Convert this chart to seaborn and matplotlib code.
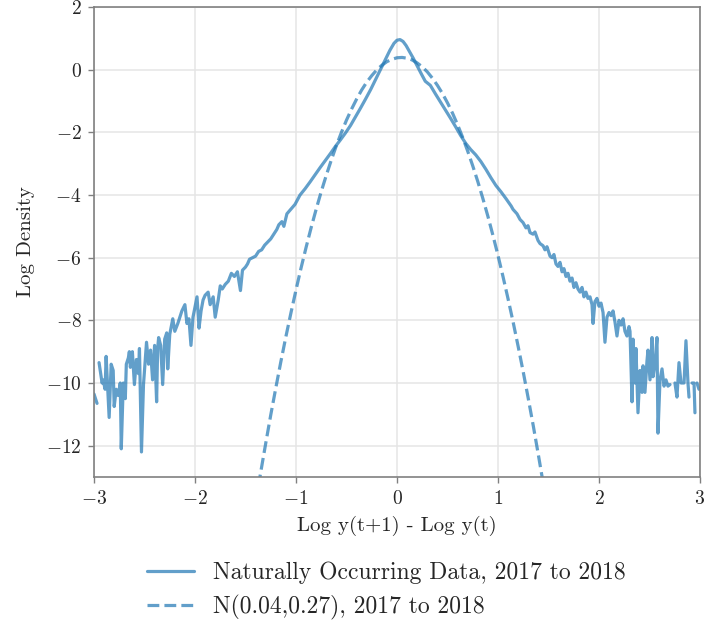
import numpy as np
import pandas as pd
import matplotlib
matplotlib.use("Agg")
import matplotlib.pyplot as plt
import seaborn as sns
from matplotlib.lines import Line2D

nan = np.nan

emp_x = [-3.00, -2.97, nan,
         -2.95, -2.92, -2.91, -2.89, -2.88, -2.85, -2.83, -2.81, -2.80, -2.78, -2.76,
         -2.74, -2.73, -2.71, -2.69, -2.68, -2.66, -2.65, -2.64, -2.62, -2.60, -2.58,
         -2.56, -2.55, -2.53, -2.51, -2.48, -2.46, -2.44, -2.42, -2.40, -2.38, -2.37,
         -2.36, -2.34, -2.32, -2.30, -2.28, -2.27, -2.25, -2.22, -2.20, -2.17, -2.13,
         -2.10, -2.08, -2.06, -2.04, -2.02, -1.98, -1.96, -1.94, -1.92, -1.90, -1.87,
         -1.85, -1.82, -1.80, -1.77, -1.75, -1.73, -1.70, -1.67, -1.64, -1.61, -1.58,
         -1.55, -1.53, -1.50, -1.48, -1.46, -1.43, -1.40, -1.37, -1.34, -1.31, -1.28,
         -1.25, -1.22, -1.19, -1.17, -1.14, -1.12, -1.09, -1.05, -1.01,
         -0.96, -0.91, -0.86, -0.81, -0.76, -0.71, -0.66, -0.61, -0.56, -0.51, -0.46,
         -0.41, -0.36, -0.31, -0.26, -0.21, -0.16, -0.11, -0.07, -0.03, 0.00, 0.03,
         0.06, 0.09, 0.12, 0.16, 0.20, 0.24, 0.28, 0.33, 0.38, 0.43, 0.48, 0.53, 0.58,
         0.63, 0.68, 0.73, 0.78, 0.83, 0.88, 0.93, 0.98, 1.03, 1.08, 1.13,
         1.149, 1.188, 1.218, 1.248, 1.277, 1.297, 1.317, 1.347, 1.366, 1.396, 1.416,
         1.446, 1.465, 1.485, 1.515, 1.535, 1.554, 1.574, 1.594, 1.614, 1.634, 1.653,
         1.673, 1.693, 1.713, 1.733, 1.752, 1.772, 1.792, 1.812, 1.832, 1.851, 1.871,
         1.891, 1.911, 1.931, 1.941, 1.960, 1.980, 2.000, 2.020, 2.040, 2.059, 2.079,
         2.099, 2.119, 2.139, 2.158, 2.178, 2.198, 2.218, 2.238, 2.257, 2.277, 2.297,
         2.307, 2.327, 2.337, 2.356, 2.366, 2.386, 2.406, 2.426, 2.436, 2.455, 2.475,
         2.485, 2.505, 2.525, 2.535, 2.554, 2.574, 2.584, 2.604, 2.624, 2.644, 2.663,
         2.683, 2.703, nan,
         2.752, 2.772, 2.792, 2.812, 2.842, 2.861, 2.881, 2.891, nan,
         2.921, 2.941, 2.950, nan,
         2.970, 2.990]
emp_y = [-10.35, -10.65, nan,
         -9.35, -10.0, -9.9, -10.2, -9.15, -11.1, -9.4, -9.6, -10.75, -10.2, -10.4,
         -10.0, -12.1, -10.0, -10.5, -9.4, -9.2, -9.0, -9.5, -9.0, -10.05, -9.25,
         -9.7, -8.9, -12.2, -10.05, -8.7, -9.4, -8.95, -9.9, -8.8, -10.6, -8.9,
         -8.55, -8.8, -10.05, -8.6, -8.4, -9.55, -8.45, -7.95, -8.35, -8.1, -7.7,
         -7.5, -8.1, -7.95, -8.8, -7.9, -7.25, -8.25, -7.7, -7.35, -7.2, -7.1,
         -7.5, -7.25, -7.9, -7.35, -6.9, -7.0, -6.85, -6.75, -6.5, -6.6, -6.45,
         -7.05, -6.4, -6.3, -6.2, -6.05, -6.0, -5.95, -5.8, -5.75, -5.6, -5.5,
         -5.4, -5.25, -5.1, -4.95, -4.85, -5.0, -4.6, -4.45, -4.3,
         -4.0, -3.8, -3.58, -3.35, -3.12, -2.9, -2.68, -2.45, -2.24, -2.02, -1.78,
         -1.5, -1.22, -0.93, -0.63, -0.3, 0.03, 0.36, 0.62, 0.84, 0.94, 0.96,
         0.9, 0.77, 0.6, 0.37, 0.12, -0.13, -0.37, -0.5, -0.77, -1.03, -1.29, -1.55, -1.82,
         -2.1, -2.35, -2.55, -2.72, -2.93, -3.18, -3.45, -3.7, -3.9, -4.12, -4.35,
         -4.46, -4.6, -4.78, -4.88, -5.05, -4.98, -5.2, -5.25, -5.18, -5.45, -5.55,
         -5.62, -5.75, -5.65, -5.95, -6.0, -5.9, -6.2, -6.28, -6.15, -6.45, -6.35,
         -6.6, -6.5, -6.75, -6.65, -6.95, -6.8, -7.0, -7.1, -6.95, -7.25, -7.1,
         -7.3, -7.25, -7.5, -8.1, -7.4, -7.3, -7.55, -7.45, -7.75, -8.7, -7.9,
         -7.75, -7.85, -7.7, -8.05, -8.5, -8.0, -8.15, -7.95, -8.35, -8.5, -8.2,
         -8.35, -10.6, -8.6, -10.0, -8.9, -10.95, -9.6, -10.3, -9.45, -10.3, -9.3,
         -8.95, -9.9, -8.55, -9.8, -9.4, -8.55, -11.6, -9.9, -9.55, -10.1, -9.9,
         -10.1, -10.05, nan,
         -10.0, -10.45, -9.35, -10.0, -10.0, -8.65, -10.0, -10.45, nan,
         -10.0, -10.0, -10.95, nan,
         -10.0, -10.2]

# Normal N(0.04, 0.27) log density
norm_x = [-1.40, -1.35, -1.30, -1.25, -1.20, -1.15, -1.10, -1.05, -1.00, -0.95,
          -0.90, -0.85, -0.80, -0.75, -0.70, -0.65, -0.60, -0.55, -0.50, -0.45,
          -0.40, -0.35, -0.30, -0.25, -0.20, -0.15, -0.10, -0.05, 0.00, 0.05,
          0.10, 0.15, 0.20, 0.25, 0.30, 0.35, 0.40, 0.45, 0.50, 0.55,
          0.60, 0.65, 0.70, 0.75, 0.80, 0.85, 0.90, 0.95, 1.00, 1.05,
          1.10, 1.15, 1.20, 1.25, 1.30, 1.35, 1.40, 1.45, 1.50]
norm_y = [-13.83, -12.86, -11.93, -11.02, -10.16, -9.32, -8.52, -7.76, -7.03, -6.33,
          -5.67, -5.04, -4.45, -3.89, -3.37, -2.88, -2.42, -2.00, -1.61, -1.26,
          -0.94, -0.65, -0.40, -0.19, -0.005, 0.14, 0.256, 0.33, 0.38, 0.39,
          0.365, 0.31, 0.214, 0.09, -0.07, -0.27, -0.50, -0.76, -1.06, -1.39,
          -1.76, -2.16, -2.60, -3.07, -3.57, -4.11, -4.68, -5.29, -5.93, -6.61,
          -7.32, -8.06, -8.84, -9.65, -10.50, -11.38, -12.30, -13.25, -14.23]

x_ticks = [-3, -2, -1, 0, 1, 2, 3]
y_ticks = [-12, -10, -8, -6, -4, -2, 0, 2]
series_labels = ["Naturally Occurring Data, 2017 to 2018",
                 "N(0.04,0.27), 2017 to 2018"]
x_label = "Log y(t+1) - Log y(t)"
y_label = "Log Density"

sns.set_style("whitegrid")
plt.rcParams["font.family"] = ["cmr10", "DejaVu Serif"]
plt.rcParams["mathtext.fontset"] = "cm"
plt.rcParams["axes.formatter.use_mathtext"] = True
plt.rcParams["axes.unicode_minus"] = True

color = "#1f77b4"
alpha = 0.7
lw = 2.3

df_emp = pd.DataFrame({"x": emp_x, "y": emp_y})
df_emp["seg"] = df_emp["y"].isna().cumsum()
df_emp = df_emp.dropna()
df_norm = pd.DataFrame({"x": norm_x, "y": norm_y})

fig = plt.figure(figsize=(7.04, 6.26), dpi=100)
ax = fig.add_axes([94 / 704, 1 - 477 / 626, 606 / 704, 470 / 626])

sns.lineplot(data=df_emp, x="x", y="y", units="seg", estimator=None,
             color=color, alpha=alpha, lw=lw, ax=ax, legend=False)
sns.lineplot(data=df_norm, x="x", y="y", color=color, alpha=alpha, lw=lw,
             linestyle="--", ax=ax, legend=False)

ax.set_xlim(-3, 3)
ax.set_ylim(-13, 2)
ax.set_xticks(x_ticks)
ax.set_yticks(y_ticks)
ax.grid(True, color="#e5e5e5", lw=1.1)
for s in ax.spines.values():
    s.set_color("#808080")
    s.set_linewidth(1.2)
ax.tick_params(axis="both", which="major", bottom=True, left=True,
               length=4, width=1.0, color="#808080", labelsize=14, pad=5)
ax.set_xlabel(x_label, fontsize=15, labelpad=6)
ax.set_ylabel(y_label, fontsize=15, labelpad=8)

handles = [Line2D([], [], color=color, alpha=alpha, lw=lw),
           Line2D([], [], color=color, alpha=alpha, lw=lw, linestyle="--")]
fig.legend(handles, series_labels, loc="center", bbox_to_anchor=(0.549, 0.056),
           frameon=False, fontsize=17, handlelength=2.0, handletextpad=0.8,
           labelspacing=0.45)

fig.savefig("out.png", dpi=100)
